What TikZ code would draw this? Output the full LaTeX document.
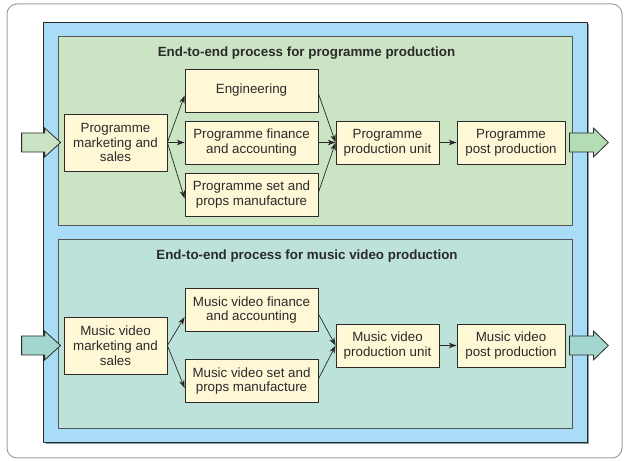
\documentclass[tikz,border=0pt]{standalone}
\usepackage{fontspec}
\setmainfont{Liberation Sans}
\usepackage{tikz}
\usetikzlibrary{positioning,arrows.meta}

\definecolor{framegray}{HTML}{A0A0A0}
\definecolor{skyblue}{HTML}{A9DDF7}
\definecolor{shadowblue}{HTML}{7F9CAD}
\definecolor{progreen}{HTML}{CBE4C4}
\definecolor{musteal}{HTML}{BDE2DA}
\definecolor{boxcream}{HTML}{FFF8D6}
\definecolor{inkgray}{HTML}{2A2A2A}
\definecolor{progarrow}{HTML}{B4DDB6}
\definecolor{musarrow}{HTML}{A3D6CE}

\tikzset{
  procbox/.style={draw=inkgray,fill=boxcream,line width=0.8bp,align=center,
    inner sep=0pt,minimum height=43bp,text=inkgray,
    font=\fontsize{13.4}{14.8}\selectfont},
  headline/.style={font=\fontsize{13.4}{15}\selectfont\bfseries,text=inkgray},
  flow/.style={draw=inkgray,line width=0.7bp,-{Stealth[length=8bp,width=5.5bp]}},
  fatarrow/.style={draw=inkgray,line width=0.8bp,line join=miter},
}

\begin{document}
\begin{tikzpicture}[line join=bevel,]
\useasboundingbox (0bp,0bp) rectangle (626bp,461bp);
%%
\draw [framegray,fill=white,line width=1bp,rounded corners=10bp] (7bp,3bp) rectangle (622bp,457bp);
\fill [shadowblue] (45.5bp,16.5bp) rectangle (589bp,437bp);
\draw [inkgray,fill=skyblue,line width=0.8bp] (43bp,19bp) rectangle (587bp,439bp);
\draw [inkgray!80,fill=progreen,line width=0.8bp] (58bp,236bp) rectangle (572bp,425bp);
\draw [inkgray!80,fill=musteal,line width=0.8bp] (58bp,33bp) rectangle (572bp,222bp);
%
\node (progtitle) at (306.5bp,408bp) [headline] {End-to-end process for programme production};
  \node (progmkt) at (115.5bp,318.5bp) [procbox,minimum width=103bp,minimum height=57bp] {Programme\\marketing and\\sales};
  \node (progeng) at (251.5bp,370.5bp) [procbox,minimum width=133bp] {Engineering};
  \node (progfin) at (251.5bp,318.5bp) [procbox,minimum width=133bp] {Programme finance\\and accounting};
  \node (progset) at (251.5bp,266.5bp) [procbox,minimum width=133bp] {Programme set and\\props manufacture};
  \node (produnit) at (387.5bp,318.5bp) [procbox,minimum width=103bp] {Programme\\production unit};
  \node (progpost) at (511bp,318.5bp) [procbox,minimum width=108bp] {Programme\\post production};
%
\node (mustitle) at (307bp,205bp) [headline] {End-to-end process for music video production};
  \node (musmkt) at (115.5bp,115.5bp) [procbox,minimum width=103bp,minimum height=57bp] {Music video\\marketing and\\sales};
  \node (musfin) at (251.5bp,151bp) [procbox,minimum width=133bp] {Music video finance\\and accounting};
  \node (musset) at (251.5bp,80bp) [procbox,minimum width=133bp] {Music video set and\\props manufacture};
  \node (musunit) at (387.5bp,115.5bp) [procbox,minimum width=103bp] {Music video\\production unit};
  \node (muspost) at (511bp,115.5bp) [procbox,minimum width=108bp] {Music video\\post production};
%
  \draw [flow] (progmkt.east) -- ([yshift=-5bp]progeng.west);
  \draw [flow] (progmkt.east) -- (progfin.west);
  \draw [flow] (progmkt.east) -- ([yshift=-4bp]progset.west);
  \draw [flow] ([yshift=-3bp]progeng.east) -- (produnit.west);
  \draw [flow] (progfin.east) -- (produnit.west);
  \draw [flow] ([yshift=2bp]progset.east) -- (produnit.west);
  \draw [flow] (produnit.east) -- (progpost.west);
  \draw [flow] (musmkt.east) -- ([yshift=-7bp]musfin.west);
  \draw [flow] (musmkt.east) -- ([yshift=-7bp]musset.west);
  \draw [flow] ([yshift=-4bp]musfin.east) -- (musunit.west);
  \draw [flow] ([yshift=2bp]musset.east) -- (musunit.west);
  \draw [flow] (musunit.east) -- (muspost.west);
%
  \draw [fatarrow,fill=progreen] ([xshift=-3bp]progmkt.west) -- ++(-16bp,14.5bp) -- ++(0,-5bp) -- ++(-23bp,0) -- ++(0,-19bp) -- ++(23bp,0) -- ++(0,-5bp) -- cycle;
  \draw [fatarrow,fill=progarrow] ([xshift=4bp,yshift=9.5bp]progpost.east) -- ++(24bp,0) -- ++(0,5bp) -- ++(15bp,-14.5bp) -- ++(-15bp,-14.5bp) -- ++(0,5bp) -- ++(-24bp,0) -- cycle;
  \draw [fatarrow,fill=musarrow] ([xshift=-3bp]musmkt.west) -- ++(-16bp,14.5bp) -- ++(0,-5bp) -- ++(-23bp,0) -- ++(0,-19bp) -- ++(23bp,0) -- ++(0,-5bp) -- cycle;
  \draw [fatarrow,fill=musarrow] ([xshift=4bp,yshift=9.5bp]muspost.east) -- ++(24bp,0) -- ++(0,5bp) -- ++(15bp,-14.5bp) -- ++(-15bp,-14.5bp) -- ++(0,5bp) -- ++(-24bp,0) -- cycle;
%
\end{tikzpicture}
\end{document}
